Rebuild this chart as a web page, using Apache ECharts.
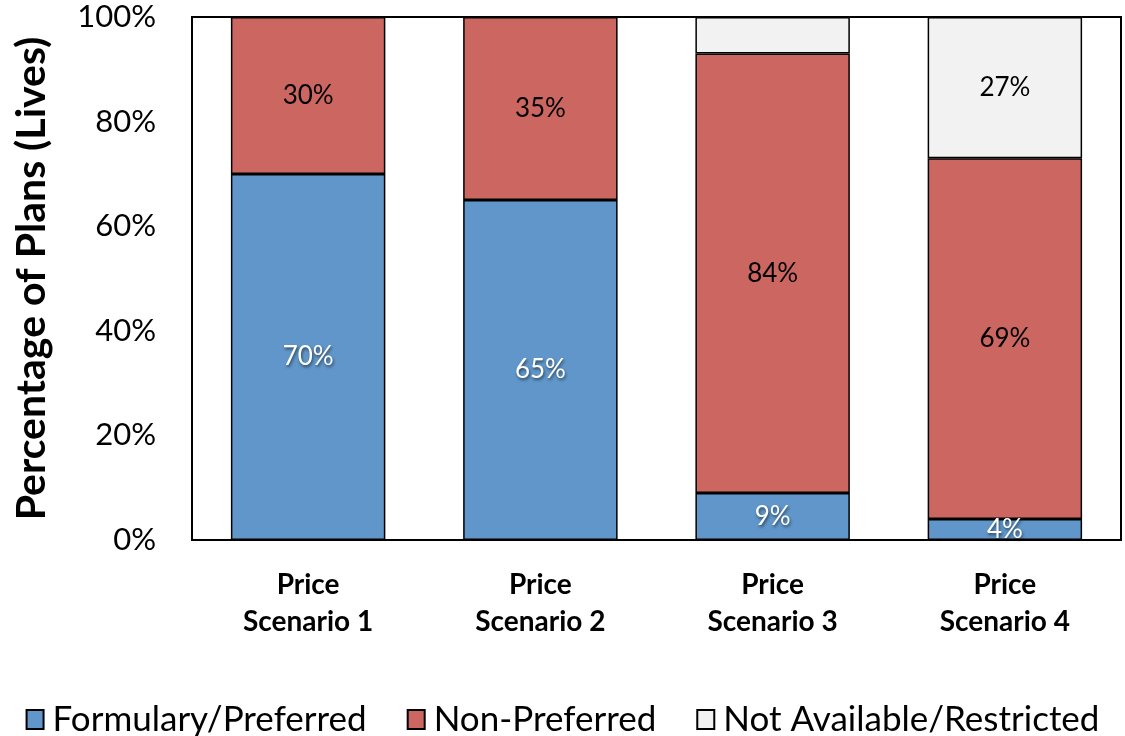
<!DOCTYPE html>
<html><head><meta charset="utf-8">
<script src="https://cdn.jsdelivr.net/npm/echarts@6/dist/echarts.min.js"></script>
<style>html,body{margin:0;padding:0;background:#fff}#c{width:1125px;height:736px}</style>
</head><body><div id="c"></div>
<script>
const categories = ['Price\nScenario 1', 'Price\nScenario 2', 'Price\nScenario 3', 'Price\nScenario 4'];
const seriesNames = ['Formulary/Preferred', 'Non-Preferred', 'Not Available/Restricted'];
const preferred = [70, 65, 9, 4];
const nonPreferred = [30, 35, 84, 69];
const notAvailable = [0, 0, 7, 27];
const labelShown = [
  [true, true, true, true],
  [true, true, true, true],
  [false, false, false, true]
];
const yTicks = [0, 20, 40, 60, 80, 100];

const FONT = 'Lato';
const colors = ['#6096C9', '#CC6660', '#F2F2F2'];
const values = [preferred, nonPreferred, notAvailable];

const series = values.map((arr, si) => ({
  name: seriesNames[si],
  type: 'bar',
  stack: 'total',
  barWidth: '66.5%',
  data: arr.map((v, i) => ({ value: v, label: { show: labelShown[si][i] } })),
  itemStyle: { color: colors[si], borderColor: '#000', borderWidth: 1.5 },
  label: {
    show: true,
    position: 'inside',
    formatter: p => p.value + '%',
    fontFamily: FONT,
    fontSize: 26,
    color: si === 0 ? '#fff' : '#000',
    textShadowColor: si === 0 ? 'rgba(0,0,0,0.55)' : 'transparent',
    textShadowBlur: si === 0 ? 3 : 0,
    textShadowOffsetX: si === 0 ? 1 : 0,
    textShadowOffsetY: si === 0 ? 2 : 0
  },
  emphasis: { disabled: true }
}));

const chart = echarts.init(document.getElementById('c'), null, { renderer: 'canvas' });
chart.setOption({
  animation: false,
  backgroundColor: '#fff',
  grid: { left: 192, right: 4, top: 17, bottom: 196, show: true, borderColor: '#000', borderWidth: 2, backgroundColor: 'transparent' },
  legend: {
    top: 697,
    left: 'center',
    itemWidth: 17,
    itemHeight: 19,
    itemGap: 40,
    textStyle: { fontFamily: FONT, fontSize: 35, color: '#000', padding: [0, 0, 0, 4] },
    icon: 'rect',
    itemStyle: { borderColor: '#000', borderWidth: 2 },
    data: seriesNames
  },
  xAxis: {
    type: 'category',
    data: categories,
    axisLine: { show: true, lineStyle: { color: '#000', width: 2 } },
    axisTick: { show: false },
    axisLabel: { fontFamily: FONT, fontWeight: 'bold', fontSize: 28, color: '#000', lineHeight: 37, margin: 26 }
  },
  yAxis: {
    type: 'value',
    min: 0, max: 100, interval: 20,
    name: 'Percentage of Plans (Lives)',
    nameLocation: 'middle',
    nameGap: 140,
    nameTextStyle: { fontFamily: FONT, fontWeight: 'bold', fontSize: 41, color: '#000' },
    axisLine: { show: true, lineStyle: { color: '#000', width: 2 } },
    axisTick: { show: false },
    splitLine: { show: false },
    axisLabel: { fontFamily: FONT, fontSize: 31, color: '#000', margin: 36, formatter: v => yTicks.includes(v) ? v + '%' : '' }
  },
  series
});
</script></body></html>
